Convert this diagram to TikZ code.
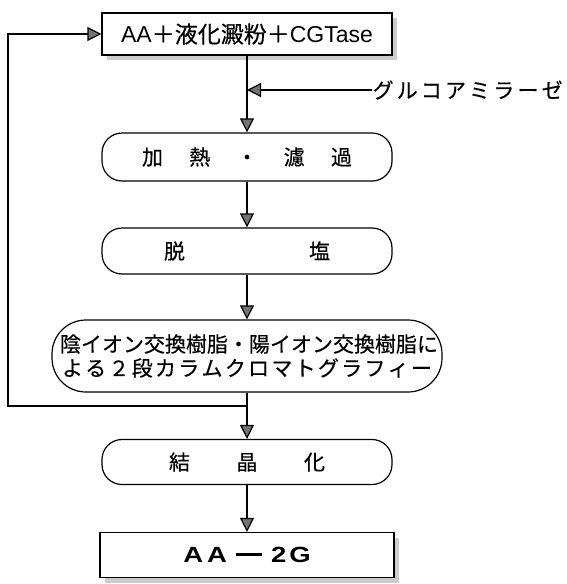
\documentclass[tikz,border=0pt]{standalone}
\usepackage{fontspec}
\setmainfont{Liberation Sans}
\newfontfamily\jp[FakeBold=0.4]{Noto Sans CJK JP}
\newfontfamily\wide[FakeStretch=1.25]{Liberation Sans}
\usetikzlibrary{arrows.meta,shadows}
\ExplSyntaxOn
\seq_new:N \l_spreadchars_seq
\NewDocumentCommand\spreadtxt{mm}{
  \seq_clear:N \l_spreadchars_seq
  \tl_map_inline:nn {#2} { \seq_put_right:Nn \l_spreadchars_seq {##1} }
  \makebox[#1][s]{ \seq_use:Nn \l_spreadchars_seq { \hfil } }
}
\ExplSyntaxOff
\begin{document}
\begin{tikzpicture}[x=1pt,y=-1pt,line width=1.2pt,
  arr/.style={-{Triangle[width=14pt,length=14pt,fill=black!55]},line width=1.2pt},
  shade5/.style={drop shadow={shadow xshift=5pt,shadow yshift=-5pt,fill=gray!40,opacity=1}},
  sqbox/.style={draw,fill=white,shade5,minimum width=290pt,inner sep=0pt},
  rndbox/.style={draw,fill=white,rounded corners=20pt,minimum width=290pt,inner sep=0pt},
  jtxt/.style={font=\jp\fontsize{21}{24}\selectfont}]
\useasboundingbox (0,0) rectangle (566,584);

\node[sqbox,minimum height=42pt] (top) at (247,34)
  {\fontsize{23}{26}\selectfont AA{\jp ＋液化澱粉＋}CGTase};
\node[rndbox,minimum height=48pt,jtxt] (heat) at (247,157) {\spreadtxt{210pt}{加熱・濾過}};
\node[rndbox,minimum height=46pt,jtxt] (desalt) at (247,251) {\spreadtxt{166pt}{脱塩}};
\node[rndbox,rounded corners=34pt,minimum width=390pt,minimum height=72pt,jtxt,align=center] (chrom) at (247,356)
  {\spreadtxt{374pt}{陰イオン交換樹脂・陽イオン交換樹脂に}\\\spreadtxt{370pt}{よる２段カラムクロマトグラフィー}};
\node[rndbox,minimum height=45pt,jtxt] (cryst) at (247,462) {\spreadtxt{156pt}{結晶化}};
\node[sqbox,minimum width=294pt,minimum height=45pt] (prod) at (247,555)
  {\fontsize{22}{26}\selectfont\wide\bfseries A\hspace{4pt}A\hspace{9pt}\rule[6.8pt]{26pt}{2.8pt}\hspace{9pt}2\hspace{3pt}G};

\node[anchor=west,inner sep=0pt,jtxt] (gluc) at (372,90) {\spreadtxt{190pt}{グルコアミラーゼ}};
\coordinate (gj) at (247,90);
\coordinate (fb1) at (247,406);
\coordinate (fb2) at (8,406);

\draw[arr] (top.south) -- (heat.north);
\draw[arr] (gluc.west) -- (gj);
\draw[arr] (heat.south) -- (desalt.north);
\draw[arr] (desalt.south) -- (chrom.north);
\draw[arr] (chrom.south) -- (cryst.north);
\draw[arr] (cryst.south) -- (prod.north);
\draw[arr] (fb1) -- (fb2) |- (top.west);
\end{tikzpicture}
\end{document}
